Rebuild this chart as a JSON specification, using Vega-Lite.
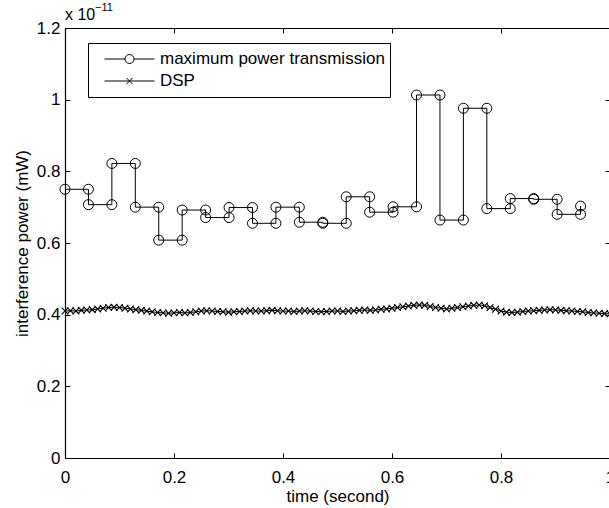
{
  "$schema": "https://vega.github.io/schema/vega-lite/v6.json",
  "width": 545,
  "height": 430,
  "autosize": {"type": "none"},
  "padding": {"left": 65, "top": 28, "right": 0, "bottom": 50},
  "background": "white",
  "config": {
    "font": "Liberation Sans",
    "view": {"stroke": null},
    "axis": {
      "labelFont": "Liberation Sans",
      "titleFont": "Liberation Sans",
      "labelFontSize": 17,
      "titleFontSize": 17,
      "titleFontWeight": "normal",
      "labelColor": "#000",
      "titleColor": "#000",
      "domainColor": "#000",
      "tickColor": "#000",
      "domainWidth": 1.2,
      "tickWidth": 1,
      "grid": false,
      "tickSize": -5
    }
  },
  "datasets": {
    "maxpower": [
      {"i":0,"t":0,"v":0.75},{"i":1,"t":0.043,"v":0.75},{"i":2,"t":0.043,"v":0.707},{"i":3,"t":0.086,"v":0.707},
      {"i":4,"t":0.086,"v":0.822},{"i":5,"t":0.129,"v":0.822},{"i":6,"t":0.129,"v":0.7},{"i":7,"t":0.172,"v":0.7},
      {"i":8,"t":0.172,"v":0.608},{"i":9,"t":0.215,"v":0.608},{"i":10,"t":0.215,"v":0.692},{"i":11,"t":0.258,"v":0.692},
      {"i":12,"t":0.258,"v":0.671},{"i":13,"t":0.301,"v":0.671},{"i":14,"t":0.301,"v":0.699},{"i":15,"t":0.344,"v":0.699},
      {"i":16,"t":0.344,"v":0.655},{"i":17,"t":0.387,"v":0.655},{"i":18,"t":0.387,"v":0.7},{"i":19,"t":0.43,"v":0.7},
      {"i":20,"t":0.43,"v":0.658},{"i":21,"t":0.473,"v":0.658},{"i":22,"t":0.473,"v":0.655},{"i":23,"t":0.516,"v":0.655},
      {"i":24,"t":0.516,"v":0.729},{"i":25,"t":0.559,"v":0.729},{"i":26,"t":0.559,"v":0.686},{"i":27,"t":0.602,"v":0.686},
      {"i":28,"t":0.602,"v":0.701},{"i":29,"t":0.645,"v":0.701},{"i":30,"t":0.645,"v":1.013},{"i":31,"t":0.688,"v":1.013},
      {"i":32,"t":0.688,"v":0.664},{"i":33,"t":0.731,"v":0.664},{"i":34,"t":0.731,"v":0.976},{"i":35,"t":0.774,"v":0.976},
      {"i":36,"t":0.774,"v":0.696},{"i":37,"t":0.817,"v":0.696},{"i":38,"t":0.817,"v":0.724},{"i":39,"t":0.86,"v":0.724},
      {"i":40,"t":0.86,"v":0.722},{"i":41,"t":0.903,"v":0.722},{"i":42,"t":0.903,"v":0.68},{"i":43,"t":0.946,"v":0.68},
      {"i":44,"t":0.946,"v":0.703}
    ],
    "dsp": [
      {"t":0.00,"v":0.410},{"t":0.01,"v":0.411},{"t":0.02,"v":0.410},{"t":0.03,"v":0.412},{"t":0.04,"v":0.413},
      {"t":0.05,"v":0.414},{"t":0.06,"v":0.416},{"t":0.07,"v":0.418},{"t":0.08,"v":0.420},{"t":0.09,"v":0.421},
      {"t":0.10,"v":0.420},{"t":0.11,"v":0.418},{"t":0.12,"v":0.416},{"t":0.13,"v":0.414},{"t":0.14,"v":0.412},
      {"t":0.15,"v":0.410},{"t":0.16,"v":0.408},{"t":0.17,"v":0.406},{"t":0.18,"v":0.405},{"t":0.19,"v":0.404},
      {"t":0.20,"v":0.405},{"t":0.21,"v":0.406},{"t":0.22,"v":0.405},{"t":0.23,"v":0.406},{"t":0.24,"v":0.408},
      {"t":0.25,"v":0.410},{"t":0.26,"v":0.411},{"t":0.27,"v":0.410},{"t":0.28,"v":0.409},{"t":0.29,"v":0.408},
      {"t":0.30,"v":0.407},{"t":0.31,"v":0.408},{"t":0.32,"v":0.409},{"t":0.33,"v":0.410},{"t":0.34,"v":0.411},
      {"t":0.35,"v":0.410},{"t":0.36,"v":0.410},{"t":0.37,"v":0.411},{"t":0.38,"v":0.412},{"t":0.39,"v":0.411},
      {"t":0.40,"v":0.410},{"t":0.41,"v":0.410},{"t":0.42,"v":0.409},{"t":0.43,"v":0.410},{"t":0.44,"v":0.411},
      {"t":0.45,"v":0.410},{"t":0.46,"v":0.409},{"t":0.47,"v":0.408},{"t":0.48,"v":0.409},{"t":0.49,"v":0.410},
      {"t":0.50,"v":0.410},{"t":0.51,"v":0.409},{"t":0.52,"v":0.410},{"t":0.53,"v":0.411},{"t":0.54,"v":0.412},
      {"t":0.55,"v":0.413},{"t":0.56,"v":0.412},{"t":0.57,"v":0.413},{"t":0.58,"v":0.415},{"t":0.59,"v":0.416},
      {"t":0.60,"v":0.418},{"t":0.61,"v":0.420},{"t":0.62,"v":0.422},{"t":0.63,"v":0.424},{"t":0.64,"v":0.426},
      {"t":0.65,"v":0.427},{"t":0.66,"v":0.426},{"t":0.67,"v":0.423},{"t":0.68,"v":0.420},{"t":0.69,"v":0.418},
      {"t":0.70,"v":0.416},{"t":0.71,"v":0.418},{"t":0.72,"v":0.420},{"t":0.73,"v":0.422},{"t":0.74,"v":0.424},
      {"t":0.75,"v":0.426},{"t":0.76,"v":0.427},{"t":0.77,"v":0.425},{"t":0.78,"v":0.420},{"t":0.79,"v":0.415},
      {"t":0.80,"v":0.410},{"t":0.81,"v":0.407},{"t":0.82,"v":0.406},{"t":0.83,"v":0.407},{"t":0.84,"v":0.409},
      {"t":0.85,"v":0.410},{"t":0.86,"v":0.411},{"t":0.87,"v":0.412},{"t":0.88,"v":0.413},{"t":0.89,"v":0.414},
      {"t":0.90,"v":0.413},{"t":0.91,"v":0.412},{"t":0.92,"v":0.411},{"t":0.93,"v":0.410},{"t":0.94,"v":0.409},
      {"t":0.95,"v":0.408},{"t":0.96,"v":0.406},{"t":0.97,"v":0.405},{"t":0.98,"v":0.404},{"t":0.99,"v":0.403},
      {"t":1.00,"v":0.402}
    ]
  },
  "resolve": {"axis": {"x": "independent", "y": "independent"}},
  "layer": [
    {
      "data": {"name": "maxpower"},
      "mark": {"type": "line", "color": "#000", "strokeWidth": 1},
      "encoding": {
        "x": {"field": "t", "type": "quantitative", "scale": {"domain": [0, 1], "nice": false},
          "axis": {"orient": "bottom", "title": "time (second)", "values": [0, 0.2, 0.4, 0.6, 0.8, 1], "format": ".1~f", "labelPadding": 16, "titlePadding": 3, "labelFlush": false}},
        "y": {"field": "v", "type": "quantitative", "scale": {"domain": [0, 1.2], "nice": false},
          "axis": {"orient": "left", "title": "interference power (mW)", "values": [0, 0.2, 0.4, 0.6, 0.8, 1, 1.2], "format": ".1~f", "labelPadding": 10, "titlePadding": 5, "labelFlush": false}},
        "order": {"field": "i", "type": "quantitative"}
      }
    },
    {
      "data": {"name": "dsp"},
      "mark": {"type": "line", "color": "#000", "strokeWidth": 1},
      "encoding": {
        "x": {"field": "t", "type": "quantitative",
          "axis": {"orient": "top", "title": null, "labels": false, "values": [0, 0.2, 0.4, 0.6, 0.8, 1]}},
        "y": {"field": "v", "type": "quantitative",
          "axis": {"orient": "right", "title": null, "labels": false, "values": [0, 0.2, 0.4, 0.6, 0.8, 1, 1.2]}}
      }
    },
    {
      "data": {"name": "maxpower"},
      "mark": {"type": "point", "shape": "circle", "filled": false, "color": "#000", "size": 100, "strokeWidth": 1, "opacity": 1},
      "encoding": {
        "x": {"field": "t", "type": "quantitative", "axis": null},
        "y": {"field": "v", "type": "quantitative", "axis": null}
      }
    },
    {
      "data": {"name": "dsp"},
      "mark": {"type": "point", "shape": "M-1,-1L1,1M-1,1L1,-1", "filled": false, "color": "#000", "size": 45, "strokeWidth": 1.1, "opacity": 1},
      "encoding": {
        "x": {"field": "t", "type": "quantitative", "axis": null},
        "y": {"field": "v", "type": "quantitative", "axis": null}
      }
    },
    {
      "data": {"values": []},
      "mark": {"type": "point", "filled": false, "color": "#000", "strokeWidth": 1, "opacity": 1},
      "encoding": {
        "shape": {
          "datum": "maximum power transmission",
          "type": "nominal",
          "scale": {"domain": ["maximum power transmission", "DSP"],
                    "range": ["M-1,0L-0.18,0M0.18,0L1,0M0.18,0A0.18,0.18 0 1,1 -0.18,0A0.18,0.18 0 1,1 0.18,0",
                              "M-1,0L1,0M-0.12,-0.12L0.12,0.12M-0.12,0.12L0.12,-0.12"]},
          "legend": {
            "orient": "none", "legendX": 23, "legendY": 15, "title": null,
            "padding": 5, "strokeColor": "#000", "fillColor": "white", "cornerRadius": 0,
            "symbolSize": 2500, "clipHeight": 22, "rowPadding": 0,
            "symbolOffset": 11, "labelOffset": 5, "labelFontSize": 17, "labelFont": "Liberation Sans",
            "labelLimit": 0, "labelColor": "#000",
            "symbolStrokeColor": "#000", "symbolStrokeWidth": 1, "symbolFillColor": "transparent", "symbolOpacity": 1
          }
        }
      }
    },
    {
      "data": {"values": [{}]},
      "mark": {"type": "text", "text": "x 10", "align": "left", "baseline": "alphabetic", "fontSize": 16, "dy": -8, "color": "#000", "font": "Liberation Sans"},
      "encoding": {
        "x": {"datum": 0, "type": "quantitative", "axis": null},
        "y": {"datum": 1.2, "type": "quantitative", "axis": null}
      }
    },
    {
      "data": {"values": [{}]},
      "mark": {"type": "text", "text": "−11", "align": "left", "baseline": "alphabetic", "fontSize": 11, "dx": 30, "dy": -17, "color": "#000", "font": "Liberation Sans"},
      "encoding": {
        "x": {"datum": 0, "type": "quantitative", "axis": null},
        "y": {"datum": 1.2, "type": "quantitative", "axis": null}
      }
    }
  ]
}
